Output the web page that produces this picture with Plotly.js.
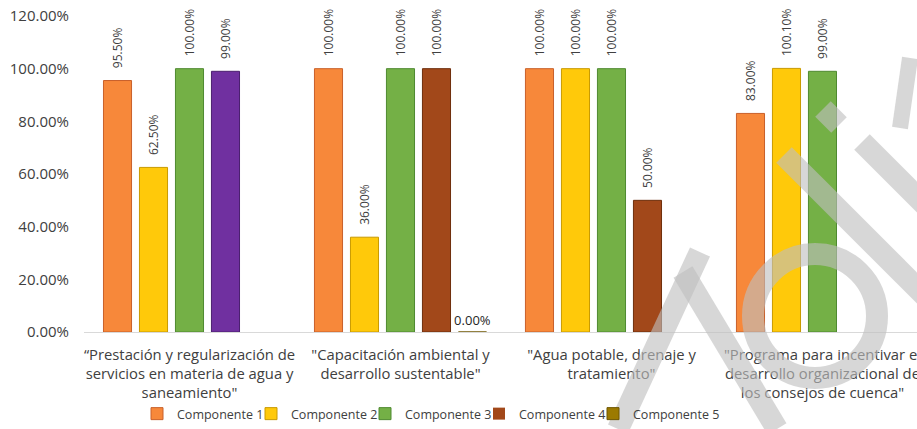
<!DOCTYPE html>
<html>
<head>
<meta charset="utf-8">
<script src="https://cdn.plot.ly/plotly-3.0.1.min.js"></script>
<style>html,body{margin:0;padding:0;background:#fff;}#chart{width:917px;height:429px;}</style>
</head>
<body>
<div id="chart"></div>
<script>
const categories = [
  "“Prestación y regularización de<br>servicios en materia de agua y<br>saneamiento\"",
  "\"Capacitación ambiental y<br>desarrollo sustentable\"",
  "\"Agua potable, drenaje y<br>tratamiento\"",
  "\"Programa para incentivar el<br>desarrollo organizacional de<br>los consejos de cuenca\""
];
const seriesNames = ["Componente 1", "Componente 2", "Componente 3", "Componente 4", "Componente 5"];
const comp1 = [95.5, 100, 100, 83];
const comp2 = [62.5, 36, 100, 100.1];
const comp3 = [100, 100, 100, 99];
const comp4 = [99, 100, 50, null];
const comp5 = [null, 0, null, null];
const yTicks = [0, 20, 40, 60, 80, 100, 120];

const seriesValues = [comp1, comp2, comp3, comp4, comp5];
const colors = ["#F7883A", "#FFC90A", "#74B046", "#A2481A", "#9C7A00"];
const lineColors = ["#C9602A", "#C99A00", "#4F8A30", "#6E2E0C", "#6E5600"];
const idx = categories.map((c, i) => i);
const pad = "\u00A0\u00A0\u00A0";
const legendIds = ["legend", "legend2", "legend3", "legend4", "legend5"];
const legendX = [137, 251, 365, 479, 593];

const traces = [];
seriesValues.forEach((vals, s) => {
  let mc = colors[s];
  let lc = lineColors[s];
  if (s === 3) {
    mc = vals.map((v, i) => i === 0 ? "#7030A0" : colors[3]);
    lc = vals.map((v, i) => i === 0 ? "#4A1F6E" : lineColors[3]);
    traces.push({
      type: "bar", name: seriesNames[s], x: [0], y: [0], offsetgroup: "g" + s,
      legend: legendIds[s],
      marker: {color: colors[s], line: {width: 0}}, hoverinfo: "skip"
    });
  }
  const isZero = s === 4;
  traces.push({
    type: "bar",
    name: seriesNames[s],
    x: idx,
    y: vals,
    offsetgroup: "g" + s,
    legend: legendIds[s],
    showlegend: s !== 3,
    marker: {color: mc, line: {color: lc, width: 1}},
    text: vals.map(v => v === null ? "" : (isZero ? "" : pad) + v.toFixed(2) + "%"),
    textposition: "outside",
    textangle: isZero ? 0 : -90,
    constraintext: "none",
    cliponaxis: false,
    textfont: isZero ? {family: "Open Sans, sans-serif", size: 13, color: "#262626"} : {family: "Open Sans, sans-serif", size: 12, color: "#404040"},
    hoverinfo: "skip"
  });
});

// watermark strokes (decoration, pixel positions converted to paper)
const L = 84, W = 833, B = 332, H = 316;
const px = v => (v - L) / W, py = v => (B - v) / H;
const wm = "rgba(190,190,190,0.62)";
const strokes = [
  [700, 252, 618, 429, 22],
  [683, 272, 777, 429, 22],
  [784, 155, 940, 311, 22],
  [862, 142, 940, 220, 22],
  [823, 109, 839, 125, 22],
  [910, 58, 900, 128, 16]
];
const shapes = strokes.map(s => ({
  type: "line", xref: "paper", yref: "paper", layer: "above",
  x0: px(s[0]), y0: py(s[1]), x1: px(s[2]), y1: py(s[3]),
  line: {color: wm, width: s[4]}
}));
shapes.push({
  type: "circle", xref: "paper", yref: "paper", layer: "above",
  x0: px(815 - 62), x1: px(815 + 62), y0: py(316 + 62), y1: py(316 - 62),
  line: {color: wm, width: 22}, fillcolor: "rgba(0,0,0,0)"
});

const layout = {
  width: 917, height: 429,
  margin: {l: 84, r: 0, t: 16, b: 97},
  paper_bgcolor: "#fff", plot_bgcolor: "#fff",
  barmode: "group",
  bargap: 0.147,
  bargroupgap: 0.22,
  font: {family: "Open Sans, sans-serif", color: "#404040"},
  showlegend: true,
  shapes: shapes,
  xaxis: {
    tickmode: "array", tickvals: idx, ticktext: categories,
    range: [-0.5, 3.448],
    showgrid: false, zeroline: false, showline: true, linecolor: "#D9D9D9", linewidth: 1,
    ticks: "", tickfont: {size: 14.8, color: "#404040"}, ticklabelstandoff: 9,
    ticklabeloverflow: "allow", fixedrange: true
  },
  yaxis: {
    range: [0, 120], tickmode: "array", tickvals: yTicks,
    ticktext: yTicks.map(v => v.toFixed(2) + "%"),
    showgrid: false, zeroline: false, showline: false, ticks: "",
    tickfont: {size: 15, color: "#404040"}, ticklabelstandoff: 14, fixedrange: true
  }
};
legendIds.forEach((id, i) => {
  layout[id] = {orientation: "h", xref: "container", yref: "container", x: legendX[i] / 917, y: 0.0,
    xanchor: "left", yanchor: "bottom", font: {size: 12.5, color: "#404040"}, itemwidth: 30, bgcolor: "rgba(0,0,0,0)"};
});

Plotly.newPlot("chart", traces, layout, {displayModeBar: false, staticPlot: true});
</script>
</body>
</html>
